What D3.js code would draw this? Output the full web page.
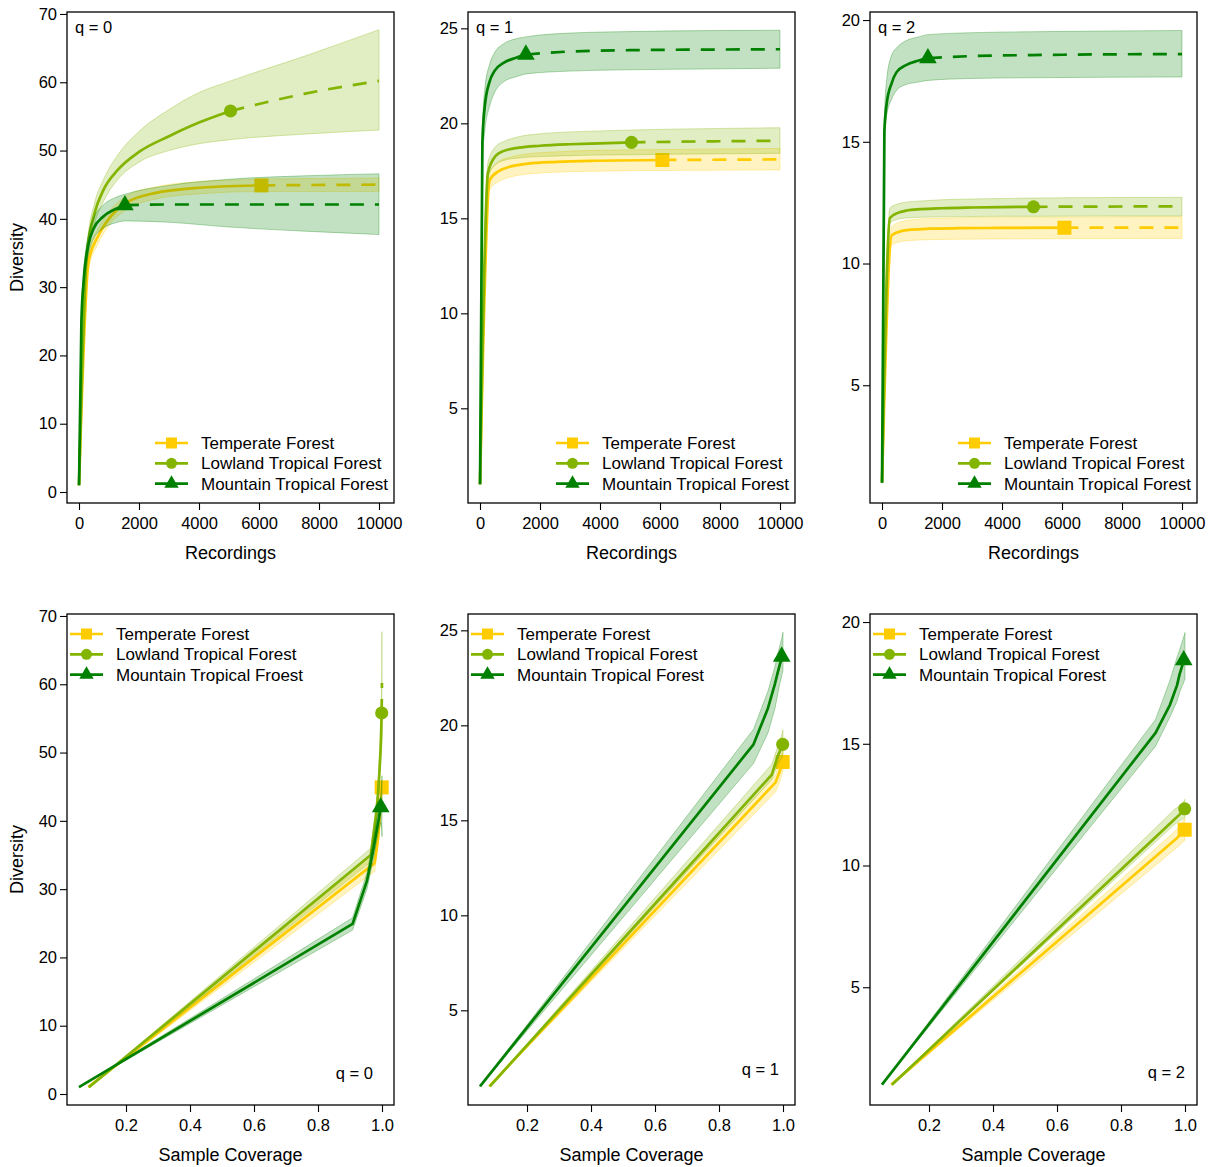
<!DOCTYPE html>
<html><head><meta charset="utf-8">
<script src="https://cdn.jsdelivr.net/npm/d3@7"></script>
<style>
body{margin:0;background:#fff}
text{font-family:"Liberation Sans",Arial,sans-serif;fill:#000}
</style>
</head><body>
<svg id="c" width="1208" height="1167"></svg>
<script>
// ---------------- DATA ----------------
const seriesLabels = ["Temperate Forest","Lowland Tropical Forest","Mountain Tropical Forest"];
const seriesLabelsCoverageQ0 = ["Temperate Forest","Lowland Tropical Forest","Mountain Tropical Froest"];
const referenceSize = [6080, 5050, 1530];

const recordingsTF  = [1,320,640,960,1600,2560,3840,6080,7500,8800,10000];
const recordingsLTF = [1,265,530,800,1300,2000,3000,4000,5050,7500,10000];
const recordingsMTF = [1,80,160,320,480,800,1200,1530,3000,5000,7500,10000];

const coverageTF  = [0.082,0.977,0.988,0.992,0.995,0.997,0.998,0.999,0.9993,0.9996,0.9998];
const coverageLTF = [0.084,0.965,0.982,0.988,0.992,0.995,0.997,0.998,0.999,0.9995,0.9998];
const coverageMTF = [0.053,0.908,0.953,0.975,0.983,0.990,0.994,0.996,0.998,0.9993,0.9997,0.9999];

// q = 0
const q0TF    = [1,33.8,37.5,39.8,42.4,43.8,44.5,44.9,44.95,44.98,45.0];
const q0TFlo  = [1,32.6,36.4,38.8,41.4,42.9,43.6,44.0,44.0,44.0,44.0];
const q0TFhi  = [1,35.0,38.6,40.8,43.4,44.7,45.4,45.8,45.9,45.95,46.0];
const q0LTF   = [1,35.0,41.0,44.1,47.2,49.8,52.1,54.1,55.8,58.3,60.2];
const q0LTFlo = [1,34.0,39.5,42.4,45.8,48.3,50.0,51.0,51.6,52.4,53.0];
const q0LTFhi = [1,36.0,42.5,45.6,49.4,52.8,56.0,58.5,60.2,63.8,67.7];
const q0MTF   = [1,24.9,31.2,36.3,38.5,40.3,41.4,42.0,42.1,42.1,42.1,42.1];
const q0MTFlo = [1,24.0,30.0,34.8,37.0,38.6,39.4,39.7,39.5,38.8,38.2,37.7];
const q0MTFhi = [1,25.8,32.4,37.8,40.0,42.0,43.1,43.6,44.9,45.8,46.3,46.6];

// q = 1
const q1TF    = [1,17.0,17.5,17.7,17.88,17.97,18.03,18.07,18.08,18.09,18.1];
const q1TFlo  = [1,16.5,16.95,17.15,17.33,17.43,17.48,17.52,17.53,17.54,17.55];
const q1TFhi  = [1,17.4,18.0,18.2,18.4,18.5,18.58,18.62,18.64,18.66,18.68];
const q1LTF   = [1,17.4,18.3,18.55,18.72,18.82,18.9,18.95,19.0,19.05,19.08];
const q1LTFlo = [1,17.15,17.85,18.05,18.18,18.25,18.3,18.33,18.35,18.39,18.42];
const q1LTFhi = [1,17.95,18.8,19.05,19.3,19.45,19.55,19.6,19.65,19.72,19.77];
const q1MTF   = [1,19.0,20.9,22.2,22.75,23.2,23.45,23.62,23.78,23.85,23.88,23.9];
const q1MTFlo = [1,18.0,19.6,20.9,21.6,22.2,22.45,22.6,22.75,22.82,22.86,22.9];
const q1MTFhi = [1,19.8,21.8,23.1,23.7,24.2,24.45,24.55,24.75,24.83,24.88,24.9];

// q = 2
const q2TF    = [1,11.15,11.33,11.39,11.43,11.45,11.46,11.47,11.47,11.47,11.47];
const q2TFlo  = [1,10.76,10.9,10.95,10.98,11.0,11.01,11.02,11.02,11.03,11.03];
const q2TFhi  = [1,11.51,11.72,11.8,11.85,11.88,11.9,11.91,11.91,11.92,11.92];
const q2LTF   = [1,11.87,12.08,12.17,12.23,12.27,12.3,12.32,12.33,12.34,12.35];
const q2LTFlo = [1,11.66,11.82,11.87,11.9,11.92,11.93,11.94,11.94,11.95,11.95];
const q2LTFhi = [1,12.28,12.45,12.52,12.57,12.62,12.65,12.67,12.69,12.71,12.72];
const q2MTF   = [1,15.45,16.6,17.4,17.85,18.15,18.33,18.43,18.52,18.56,18.59,18.6];
const q2MTFlo = [1,14.9,16.1,16.75,17.1,17.35,17.45,17.52,17.6,17.63,17.65,17.66];
const q2MTFhi = [1,16.0,17.6,18.55,18.85,19.15,19.3,19.4,19.48,19.52,19.55,19.57];

const recordingTicks = [0,2000,4000,6000,8000,10000];
const coverageTicks = [0.2,0.4,0.6,0.8,1.0];
const yTickValues = [[0,10,20,30,40,50,60,70],[5,10,15,20,25],[5,10,15,20]];
const qLabels = ["q = 0","q = 1","q = 2"];
const xTitles = ["Recordings","Sample Coverage"];
const yTitle = "Diversity";

// ---------------- RENDER ----------------
const recordings = [recordingsTF, recordingsLTF, recordingsMTF];
const coverage = [coverageTF, coverageLTF, coverageMTF];
const est = [[q0TF,q0LTF,q0MTF],[q1TF,q1LTF,q1MTF],[q2TF,q2LTF,q2MTF]];
const lo  = [[q0TFlo,q0LTFlo,q0MTFlo],[q1TFlo,q1LTFlo,q1MTFlo],[q2TFlo,q2LTFlo,q2MTFlo]];
const hi  = [[q0TFhi,q0LTFhi,q0MTFhi],[q1TFhi,q1LTFhi,q1MTFhi],[q2TFhi,q2LTFhi,q2MTFhi]];

const colors = ["#FFCC00","#82B400","#008000"];
const symbols = [d3.symbolSquare, d3.symbolCircle, d3.symbolTriangle];
const markerArea = [196, 135, 135];
const legendArea = [121, 95, 90];

const panelLeft = [67, 468, 870], panelTop = [12, 614], W = 327, H = 491;
const yDomains = [[-1.61,70.29],[0.016,25.86],[0.164,20.33]];
const recDomain = [-400, 10500], covDomain = [0.0156, 1.0375];

const svg = d3.select("#c");
const defs = svg.append("defs");

for (let row = 0; row < 2; row++) {
  const curve = row === 0 ? d3.curveMonotoneX : d3.curveLinear;
  for (let q = 0; q < 3; q++) {
    const L = panelLeft[q], T = panelTop[row];
    const x = d3.scaleLinear().domain(row === 0 ? recDomain : covDomain).range([L, L + W]);
    const y = d3.scaleLinear().domain(yDomains[q]).range([T + H, T]);
    const cid = `clip${row}${q}`;
    defs.append("clipPath").attr("id", cid).append("rect")
      .attr("x", L).attr("y", T).attr("width", W).attr("height", H);
    const g = svg.append("g").attr("clip-path", `url(#${cid})`);

    for (let s = 0; s < 3; s++) {
      const xs = row === 0 ? recordings[s] : coverage[s];
      const obs = recordings[s].indexOf(referenceSize[s]);
      const pts = xs.map((xv, i) => ({x: xv, y: est[q][s][i], lo: lo[q][s][i], hi: hi[q][s][i]}));
      const area = d3.area().curve(curve).x(d => x(d.x)).y0(d => y(d.lo)).y1(d => y(d.hi));
      g.append("path").attr("d", area(pts))
        .attr("fill", colors[s]).attr("fill-opacity", 0.24)
        .attr("stroke", colors[s]).attr("stroke-opacity", 0.3).attr("stroke-width", 1);
      const line = d3.line().curve(curve).x(d => x(d.x)).y(d => y(d.y));
      g.append("path").attr("d", line(pts.slice(0, obs + 1)))
        .attr("fill", "none").attr("stroke", colors[s]).attr("stroke-width", 2.7)
        .attr("stroke-linejoin", "round");
      g.append("path").attr("d", line(pts.slice(obs)))
        .attr("fill", "none").attr("stroke", colors[s]).attr("stroke-width", 2.7)
        .attr("stroke-dasharray", "14,11");
      g.append("path").attr("d", d3.symbol().type(symbols[s]).size(markerArea[s])())
        .attr("transform", `translate(${x(pts[obs].x)},${y(pts[obs].y)})`)
        .attr("fill", colors[s]);
    }

    // frame
    svg.append("rect").attr("x", L).attr("y", T).attr("width", W).attr("height", H)
      .attr("fill", "none").attr("stroke", "#000").attr("stroke-width", 1.3);

    // axes
    const xa = svg.append("g").attr("transform", `translate(0,${T + H})`)
      .call(d3.axisBottom(x).tickValues(row === 0 ? recordingTicks : coverageTicks)
        .tickSize(7).tickPadding(7)
        .tickFormat(row === 0 ? d3.format("d") : d3.format(".1f")));
    xa.select(".domain").remove();
    xa.selectAll("text").style("font-size", "16.5px");
    xa.selectAll("line").attr("stroke-width", 1.1);

    const ya = svg.append("g").attr("transform", `translate(${L},0)`)
      .call(d3.axisLeft(y).tickValues(yTickValues[q]).tickSize(7).tickPadding(3).tickFormat(d3.format("d")));
    ya.select(".domain").remove();
    ya.selectAll("text").style("font-size", "16.5px");
    ya.selectAll("line").attr("stroke-width", 1.1);

    // axis titles
    svg.append("text").attr("x", L + W / 2).attr("y", T + H + 56)
      .attr("text-anchor", "middle").style("font-size", "18px").text(xTitles[row]);
    if (q === 0) {
      svg.append("text").attr("transform", `translate(23,${T + H / 2}) rotate(-90)`)
        .attr("text-anchor", "middle").style("font-size", "18px").text(yTitle);
    }

    // q label
    if (row === 0) {
      svg.append("text").attr("x", L + 8).attr("y", T + 21).style("font-size", "16.5px").text(qLabels[q]);
    } else {
      const off = [21, 16, 12][q], base = [465, 461, 464][q];
      svg.append("text").attr("x", L + W - off).attr("y", T + base)
        .attr("text-anchor", "end").style("font-size", "16.5px").text(qLabels[q]);
    }

    // legend
    const labels = (row === 1 && q === 0) ? seriesLabelsCoverageQ0 : seriesLabels;
    const lx0 = row === 0 ? L + 88 : L + 3;
    const ly0 = row === 0 ? T + 431 : T + 20;
    for (let s = 0; s < 3; s++) {
      const ly = ly0 + s * 20.3;
      svg.append("line").attr("x1", lx0).attr("x2", lx0 + 33).attr("y1", ly).attr("y2", ly)
        .attr("stroke", colors[s]).attr("stroke-width", 2.7);
      svg.append("path").attr("d", d3.symbol().type(symbols[s]).size(legendArea[s])())
        .attr("transform", `translate(${lx0 + 16.5},${ly})`).attr("fill", colors[s]);
      svg.append("text").attr("x", lx0 + 46).attr("y", ly).attr("dy", "0.35em")
        .style("font-size", "17px").text(labels[s]);
    }
  }
}
</script>
</body></html>
